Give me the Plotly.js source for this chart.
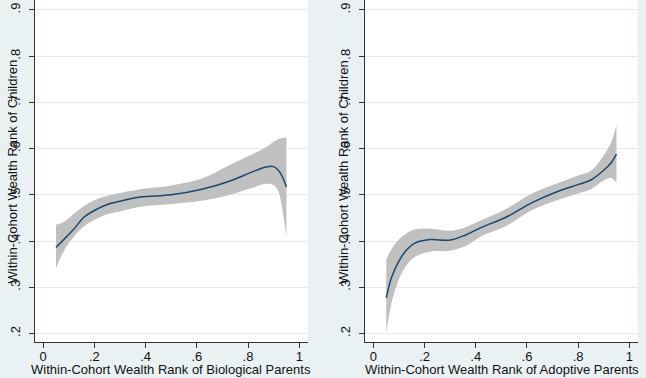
<!DOCTYPE html>
<html>
<head>
<meta charset="utf-8">
<script src="https://cdn.plot.ly/plotly-3.0.1.min.js"></script>
<style>
  html, body { margin: 0; padding: 0; background: #eaf1f3; }
  #chart { width: 646px; height: 378px; }
</style>
</head>
<body>
<div id="chart"></div>
<script>
// ---- Data ----
// Left panel: biological parents
const bioX     = [0.05, 0.08, 0.12, 0.16, 0.20, 0.25, 0.30, 0.38, 0.50, 0.62, 0.73, 0.81, 0.87, 0.90, 0.92, 0.935, 0.95];
const bioFit   = [0.386, 0.403, 0.426, 0.452, 0.466, 0.479, 0.486, 0.495, 0.500, 0.512, 0.530, 0.548, 0.560, 0.561, 0.552, 0.538, 0.517];
const bioUpper = [0.435, 0.441, 0.459, 0.476, 0.488, 0.498, 0.504, 0.512, 0.520, 0.535, 0.565, 0.586, 0.603, 0.615, 0.621, 0.623, 0.624];
const bioLower = [0.341, 0.378, 0.410, 0.432, 0.446, 0.458, 0.464, 0.474, 0.480, 0.487, 0.500, 0.514, 0.524, 0.521, 0.505, 0.465, 0.409];

// Right panel: adoptive parents
const adoX     = [0.05, 0.07, 0.10, 0.13, 0.16, 0.22, 0.30, 0.36, 0.42, 0.52, 0.62, 0.72, 0.80, 0.85, 0.90, 0.93, 0.95];
const adoFit   = [0.277, 0.320, 0.357, 0.381, 0.395, 0.403, 0.402, 0.413, 0.429, 0.452, 0.483, 0.507, 0.522, 0.532, 0.553, 0.570, 0.588];
const adoUpper = [0.360, 0.382, 0.404, 0.417, 0.425, 0.427, 0.422, 0.430, 0.445, 0.470, 0.503, 0.525, 0.542, 0.552, 0.585, 0.615, 0.651];
const adoLower = [0.200, 0.265, 0.318, 0.348, 0.365, 0.377, 0.379, 0.389, 0.410, 0.433, 0.467, 0.489, 0.503, 0.512, 0.531, 0.536, 0.526];

// Axis ticks
const xTickVals = [0, 0.2, 0.4, 0.6, 0.8, 1];
const xTickText = ["0", ".2", ".4", ".6", ".8", "1"];
const yTickVals = [0.2, 0.3, 0.4, 0.5, 0.6, 0.7, 0.8, 0.9];
const yTickText = [".2", ".3", ".4", ".5", ".6", ".7", ".8", ".9"];

const yTitle = "Within-Cohort Wealth Rank of Children";
const xTitleLeft = "Within-Cohort Wealth Rank of Biological Parents";
const xTitleRight = "Within-Cohort Wealth Rank of Adoptive Parents";

// ---- Styles ----
const bandColor = "#c0c0c0";
const lineColor = "#1a476f";
const fontFam = "Arial, 'Liberation Sans', sans-serif";

function panel(xs, lo, hi, fit, xa, ya) {
  return [
    { x: xs, y: lo, xaxis: xa, yaxis: ya, type: "scatter", mode: "lines",
      line: { width: 0, shape: "spline", color: bandColor }, hoverinfo: "skip", showlegend: false },
    { x: xs, y: hi, xaxis: xa, yaxis: ya, type: "scatter", mode: "lines",
      fill: "tonexty", fillcolor: bandColor,
      line: { width: 0, shape: "spline", color: bandColor }, hoverinfo: "skip", showlegend: false },
    { x: xs, y: fit, xaxis: xa, yaxis: ya, type: "scatter", mode: "lines",
      line: { width: 1.5, shape: "spline", color: lineColor }, showlegend: false }
  ];
}

const data = [].concat(
  panel(bioX, bioLower, bioUpper, bioFit, "x", "y"),
  panel(adoX, adoLower, adoUpper, adoFit, "x2", "y2")
);

const W = 646, H = 378;
const xRange = [-0.032, 1.033];
const yRange = [0.1814, 0.9216];
const yDomain = [36 / H, 1];

function xAxis(domain, anchor) {
  return {
    domain: domain, anchor: anchor, range: xRange,
    tickmode: "array", tickvals: xTickVals, ticktext: xTickText,
    ticks: "outside", ticklen: 5, tickwidth: 1, tickcolor: "#333",
    ticklabelstandoff: -3,
    showline: true, linecolor: "#333", linewidth: 1,
    showgrid: false, zeroline: false,
    tickfont: { family: fontFam, size: 13, color: "#111" },
    fixedrange: true
  };
}
function yAxis(anchor) {
  return {
    domain: yDomain, anchor: anchor, range: yRange,
    tickmode: "array", tickvals: yTickVals, ticktext: yTickText,
    tickangle: -90, ticklabelstandoff: 4,
    ticks: "outside", ticklen: 5, tickwidth: 1, tickcolor: "#333",
    showline: true, linecolor: "#333", linewidth: 1,
    showgrid: true, gridcolor: "#e3ecef", gridwidth: 1, zeroline: false,
    tickfont: { family: fontFam, size: 13, color: "#111" },
    fixedrange: true
  };
}

const titleFont = { family: fontFam, size: 13, color: "#111" };

const layout = {
  width: W, height: H,
  margin: { l: 0, r: 0, t: 0, b: 0, pad: 0 },
  paper_bgcolor: "#eaf1f3",
  plot_bgcolor: "#ffffff",
  showlegend: false,
  xaxis: xAxis([35 / W, 307.7 / W], "y"),
  yaxis: yAxis("x"),
  xaxis2: xAxis([365.3 / W, 637.7 / W], "y2"),
  yaxis2: yAxis("x2"),
  annotations: [
    { text: xTitleLeft, xref: "paper", yref: "paper", x: 171 / W, y: 1 - 369.5 / H,
      xanchor: "center", yanchor: "middle", showarrow: false, font: titleFont },
    { text: xTitleRight, xref: "paper", yref: "paper", x: 502 / W, y: 1 - 369.5 / H,
      xanchor: "center", yanchor: "middle", showarrow: false, font: titleFont },
    { text: yTitle, xref: "paper", yref: "paper", x: 11.5 / W, y: 1 - 172 / H,
      xanchor: "center", yanchor: "middle", textangle: -90, showarrow: false, font: titleFont },
    { text: yTitle, xref: "paper", yref: "paper", x: 343 / W, y: 1 - 172 / H,
      xanchor: "center", yanchor: "middle", textangle: -90, showarrow: false, font: titleFont }
  ]
};

Plotly.newPlot("chart", data, layout, { displayModeBar: false, staticPlot: true });
</script>
</body>
</html>
